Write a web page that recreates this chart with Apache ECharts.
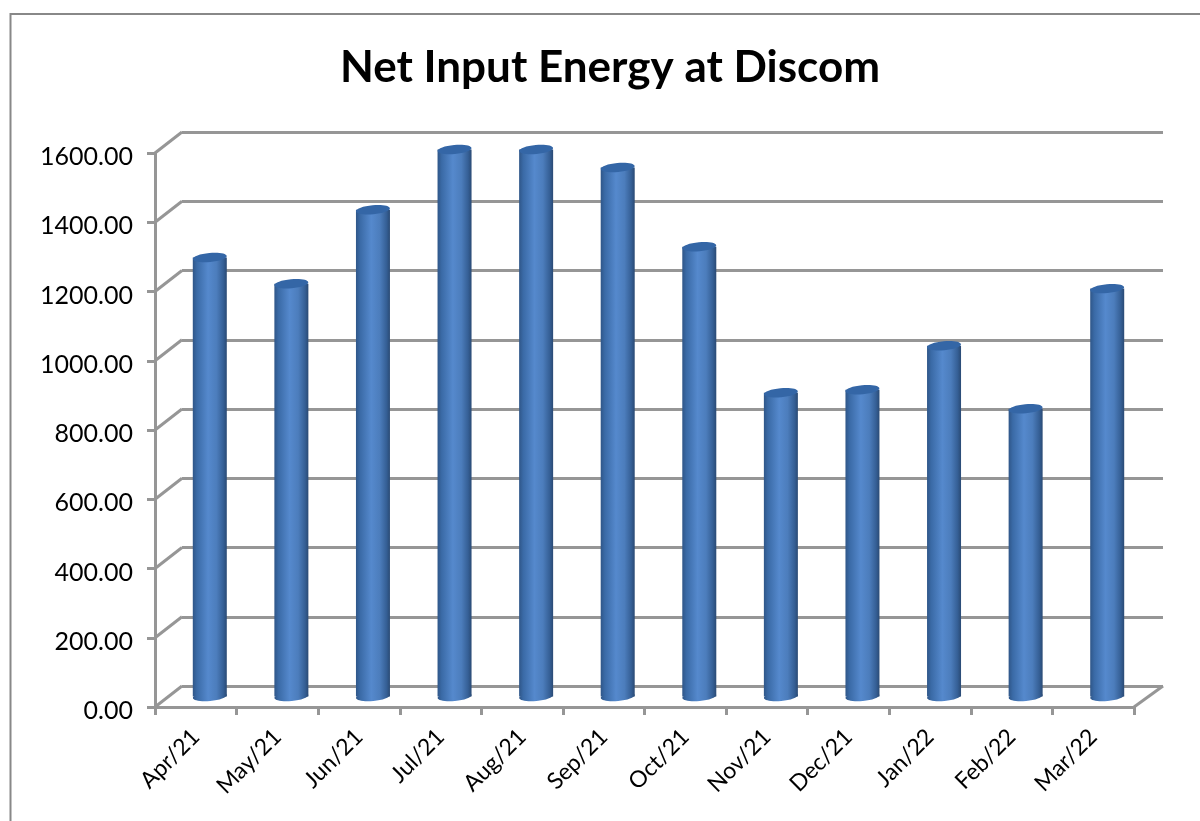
<!DOCTYPE html>
<html><head><meta charset="utf-8">
<style>html,body{margin:0;padding:0;background:#fff}#c{width:1200px;height:821px}</style>
<script src="https://cdn.jsdelivr.net/npm/echarts@6/dist/echarts.min.js"></script>
</head><body><div id="c"></div>
<script>
const categories = ['Apr/21','May/21','Jun/21','Jul/21','Aug/21','Sep/21','Oct/21','Nov/21','Dec/21','Jan/22','Feb/22','Mar/22'];
const netInput = [1268,1192,1406,1580,1580,1528,1299,877,886,1013,831,1178];
const yTicks = [0,200,400,600,800,1000,1200,1400,1600];
const titleText = 'Net Input Energy at Discom';

const DX = 27, DY = -21, AXIS = '#969696', FONT = 'Lato, "Open Sans", sans-serif';
const chart = echarts.init(document.getElementById('c'), null, {renderer:'canvas'});
const bodyFill = {type:'linear',x:0,y:0,x2:1,y2:0,colorStops:[
  {offset:0,color:'#2f5688'},{offset:0.12,color:'#3a6aa6'},{offset:0.45,color:'#5589cd'},
  {offset:0.7,color:'#4c7dbc'},{offset:0.9,color:'#355f95'},{offset:1,color:'#2a4a74'}]};

function renderBar(params, api){
  const v = api.value(1), p = api.coord([api.value(0), v]), base = api.coord([api.value(0), 0]);
  const cx = p[0] + 14, w = 34, top = p[1] + DY/2, bot = base[1] + DY/2, rx = w/2, ry = 4.5;
  return {type:'group', children:[
    {type:'ellipse', shape:{cx:cx,cy:bot,rx:rx,ry:ry}, rotation:0.09, originX:cx, originY:bot, style:{fill:bodyFill}},
    {type:'rect', shape:{x:cx-rx,y:top,width:w,height:bot-top}, style:{fill:bodyFill}},
    {type:'ellipse', shape:{cx:cx,cy:top,rx:rx,ry:ry}, rotation:0.09, originX:cx, originY:top, style:{fill:'#3466a6'}}
  ]};
}
function renderDiag(params, api){
  const v = api.value(0), p = api.coord([0, v]);
  const cs = params.coordSys, x0 = cs.x, lines = [];
  const st = {stroke:AXIS, lineWidth:3, fill:null};
  lines.push({type:'line', shape:{x1:x0,y1:p[1],x2:x0+DX,y2:p[1]+DY}, style:st});
  if (v === 0) lines.push({type:'line', shape:{x1:cs.x+cs.width,y1:p[1],x2:cs.x+cs.width+DX+2,y2:p[1]+DY}, style:st});
  return {type:'group', children:lines};
}

chart.setOption({
  animation:false,
  backgroundColor:'#fff',
  title:{text:titleText,left:605,top:41,textAlign:'center',
    textStyle:{fontFamily:FONT,fontWeight:'bold',fontSize:44,color:'#000'}},
  graphic:[{type:'polyline',shape:{points:[[10.5,830],[10.5,14],[1200,14]]},
    style:{fill:null,stroke:'#888',lineWidth:2},z:-1}],
  grid:[
    {left:155,width:979,top:153,height:554},
    {left:182,width:981,top:132,height:554}
  ],
  xAxis:[
    {type:'category',gridIndex:0,data:categories,
      axisLine:{lineStyle:{color:AXIS,width:3}},
      axisTick:{show:true,length:8,lineStyle:{color:AXIS,width:3}},
      axisLabel:{rotate:45,fontFamily:FONT,fontSize:23,color:'#000',margin:26,interval:0},
      splitLine:{show:false}},
    {type:'category',gridIndex:1,data:categories,show:false}
  ],
  yAxis:[
    {type:'value',gridIndex:0,min:0,max:1600,interval:200,
      axisLine:{show:true,lineStyle:{color:AXIS,width:3}},
      axisTick:{show:true,length:8,lineStyle:{color:AXIS,width:3}},
      axisLabel:{fontFamily:FONT,fontSize:25,color:'#000',margin:22,verticalAlign:'middle',
        formatter:v=>'{a|'+v.toFixed(2)+'}',
        rich:{a:{fontFamily:FONT,fontSize:25,color:'#000',padding:[8,0,0,0]}}},
      splitLine:{show:false}},
    {type:'value',gridIndex:1,min:0,max:1600,interval:200,
      axisLine:{show:false},axisTick:{show:false},axisLabel:{show:false},
      splitLine:{show:true,lineStyle:{color:AXIS,width:3}}}
  ],
  series:[
    {type:'custom',xAxisIndex:0,yAxisIndex:0,clip:false,z:2,silent:true,
      data:yTicks.map(v=>[v]),encode:{y:0},renderItem:renderDiag},
    {type:'custom',name:'Net Input Energy',xAxisIndex:0,yAxisIndex:0,clip:false,z:3,
      data:netInput.map((v,i)=>[i,v]),encode:{x:0,y:1},renderItem:renderBar}
  ]
});
</script></body></html>
